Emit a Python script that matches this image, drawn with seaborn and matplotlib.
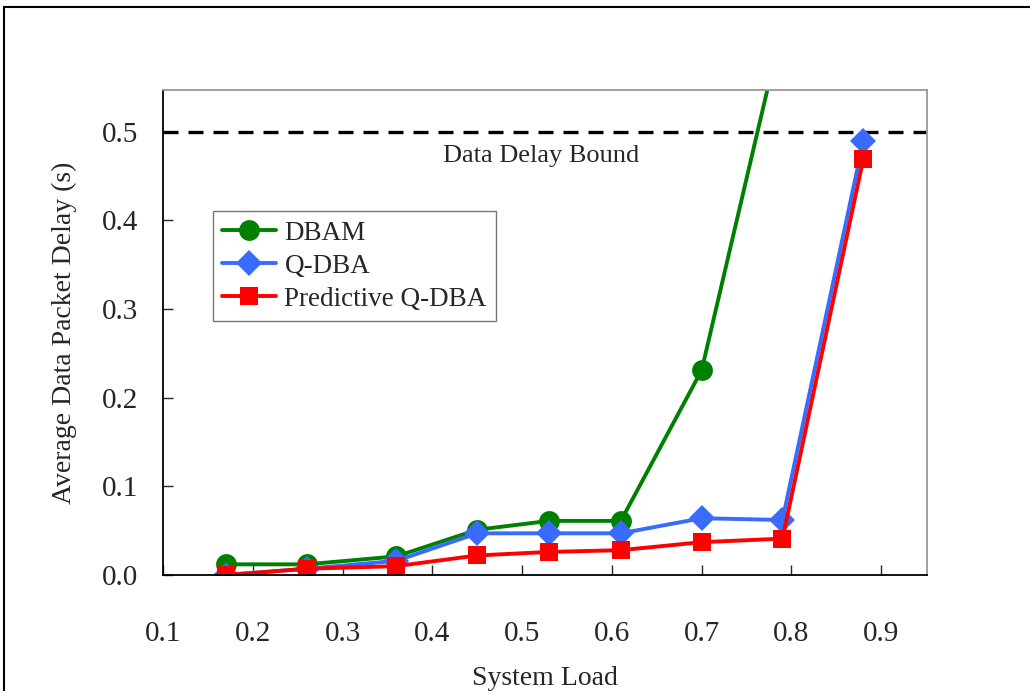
import numpy as np
import pandas as pd
import matplotlib
matplotlib.use("Agg")
import matplotlib.pyplot as plt
import seaborn as sns
from matplotlib.patches import Rectangle

# values
load = [0.17, 0.26, 0.36, 0.45, 0.53, 0.61, 0.70, 0.79, 0.88]
dbam = [0.012, 0.012, 0.021, 0.051, 0.061, 0.061, 0.231, 0.62, np.nan]
qdba = [0.0, 0.007, 0.016, 0.047, 0.047, 0.047, 0.064, 0.062, 0.489]
pqdba = [0.0, 0.007, 0.010, 0.022, 0.026, 0.028, 0.037, 0.041, 0.469]
bound = 0.5

series = [("DBAM", dbam, "#008000", "o", 15),
          ("Q-DBA", qdba, "#3A6BFF", "D", 13),
          ("Predictive Q-DBA", pqdba, "#FF0000", "s", 13)]

sns.set_style("white")
plt.rcParams["font.family"] = ["Liberation Serif", "DejaVu Serif"]

fig = plt.figure(figsize=(10.30, 6.91), dpi=100)
ax = fig.add_axes([0.1583, 0.1679, 0.9 - 0.1583, 0.8698 - 0.1679])

for name, vals, col, mk, ms in series:
    df = pd.DataFrame({"load": load, "delay": vals})
    sns.lineplot(data=df, x="load", y="delay", ax=ax, color=col, marker=mk,
                 markersize=ms, markeredgewidth=0, linewidth=2.8, label=name,
                 estimator=None, sort=False)

ax.axhline(bound, color="black", linestyle=(0, (4.5, 3)), linewidth=2.4, zorder=1)
ax.text(0.521, 0.472, "Data Delay Bound", fontsize=19, ha="center", va="center")

ax.set_xlim(0.1, 0.951)
ax.set_ylim(0, 0.547)
ax.set_xticks([0.1, 0.2, 0.3, 0.4, 0.5, 0.6, 0.7, 0.8, 0.9])
ax.set_yticks([0.0, 0.1, 0.2, 0.3, 0.4, 0.5])
ax.set_xticklabels(["0.1", "0.2", "0.3", "0.4", "0.5", "0.6", "0.7", "0.8", "0.9"])
ax.set_yticklabels(["0.0", "0.1", "0.2", "0.3", "0.4", "0.5"])
ax.tick_params(axis="x", direction="in", length=7, width=1, pad=33, labelsize=21,
               bottom=True, top=False)
ax.tick_params(axis="y", direction="in", length=7, width=1, pad=18, labelsize=21,
               left=True, right=False)
ax.set_xlabel("System Load", fontsize=20, labelpad=14)
ax.set_ylabel("Average Data Packet Delay (s)", fontsize=20, labelpad=18)

for side in ["left", "bottom"]:
    ax.spines[side].set_color("black")
    ax.spines[side].set_linewidth(1.3)
for side in ["top", "right"]:
    ax.spines[side].set_color("#999999")
    ax.spines[side].set_linewidth(1.3)

leg = ax.legend(loc="upper left", bbox_to_anchor=(0.065, 0.75), borderaxespad=0,
                fontsize=19.5, frameon=True, fancybox=False, handlelength=2.0,
                handletextpad=0.3, labelspacing=0.3, borderpad=0.35)
leg.get_frame().set_edgecolor("#555555")
leg.get_frame().set_linewidth(1.0)

# outer frame of the original figure
fig.patches.append(Rectangle((0.004, -0.05), 1.2, 1.04, transform=fig.transFigure,
                             fill=False, edgecolor="black", linewidth=1.5))

fig.savefig("out.png", dpi=100)
